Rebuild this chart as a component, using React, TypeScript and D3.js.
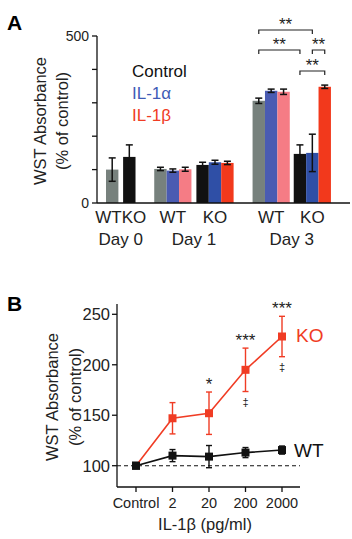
import React from 'react';
import * as d3 from 'd3';

// Panel A: WST absorbance bars (% of control)
const conditions = ['Control', 'IL-1α', 'IL-1β'];
const day0Genotypes = ['WT', 'KO'];
const day0Means = [100, 138];
const day0Errs = [35, 36];
const day1WtMeans = [102, 97, 101];
const day1WtErrs = [5, 5, 6];
const day1KoMeans = [114, 122, 120];
const day1KoErrs = [8, 6, 5];
const day3WtMeans = [306, 336, 333];
const day3WtErrs = [8, 5, 8];
const day3KoMeans = [147, 150, 348];
const day3KoErrs = [27, 56, 5];
const dayLabels = ['Day 0', 'Day 1', 'Day 3'];
const yTicksA = [0, 100, 200, 300, 400, 500];

// Panel B: dose response to IL-1β
const doses = ['Control', '2', '20', '200', '2000'];
const koMeans = [100, 147, 152, 195, 228];
const koErrs = [0, 15.5, 21, 21.5, 20];
const wtMeans = [100, 110, 109, 113, 115.5];
const wtErrs = [0, 6, 11, 5, 4];
const koStars = ['', '', '*', '***', '***'];
const koDaggers = ['', '', '', '‡', '‡'];
const yTicksB = [100, 150, 200, 250];

const FONT = "'Liberation Sans', Arial, Helvetica, sans-serif";
const wtColors = ['#77817d', '#4a5bb2', '#f57c85'];
const koColors = ['#111111', '#2f4fa6', '#f2391c'];
const RED = '#f03c24';

function ErrBar({ x, y0, y1, cap = 3.5, w = 1.5, color = '#111' }: { x: number; y0: number; y1: number; cap?: number; w?: number; color?: string }) {
  return (
    <g stroke={color} strokeWidth={w} fill="none">
      <line x1={x} x2={x} y1={y0} y2={y1} />
      <line x1={x - cap} x2={x + cap} y1={y0} y2={y0} />
      <line x1={x - cap} x2={x + cap} y1={y1} y2={y1} />
    </g>
  );
}

function PanelA() {
  const y = d3.scaleLinear().domain([0, 500]).range([203, 36]);
  const bw = 12.4;
  // bar slots in units of one bar width, measured from the first bar
  const x = d3.scaleLinear().domain([0, 1]).range([106, 106 + bw]);

  type Bar = { v: number; e: number; c: string; slot: number };
  const groups: { slot0: number; label: string; bars: Bar[] }[] = [
    { slot0: 0, label: '', bars: day0Means.map((v, i) => ({ v, e: day0Errs[i], c: i === 0 ? wtColors[0] : koColors[0], slot: i * 1.38 })) },
    { slot0: 3.89, label: 'WT', bars: day1WtMeans.map((v, i) => ({ v, e: day1WtErrs[i], c: wtColors[i], slot: i })) },
    { slot0: 7.29, label: 'KO', bars: day1KoMeans.map((v, i) => ({ v, e: day1KoErrs[i], c: koColors[i], slot: i })) },
    { slot0: 11.82, label: 'WT', bars: day3WtMeans.map((v, i) => ({ v, e: day3WtErrs[i], c: wtColors[i], slot: i })) },
    { slot0: 15.14, label: 'KO', bars: day3KoMeans.map((v, i) => ({ v, e: day3KoErrs[i], c: koColors[i], slot: i })) },
  ];
  const center = (g: number, s: number) => x(groups[g].slot0 + s + 0.5);

  const brackets = [
    { a: center(3, 0), b: center(4, 1), y: 30 },
    { a: center(3, 0), b: center(4, 0), y: 50 },
    { a: center(4, 1), b: center(4, 2), y: 50 },
    { a: center(4, 0), b: center(4, 2), y: 71 },
  ];

  return (
    <g fontFamily={FONT}>
      <text x={7} y={30} fontSize={21} fontWeight="bold">A</text>
      {groups.map((g, gi) =>
        g.bars.map((b, bi) => {
          const x0 = x(g.slot0 + b.slot);
          const cx = x0 + bw / 2;
          return (
            <g key={`${gi}-${bi}`}>
              <rect x={x0} width={bw} y={y(b.v)} height={y(0) - y(b.v)} fill={b.c} />
              <ErrBar x={cx} y0={y(b.v + b.e)} y1={y(b.v - b.e)} />
            </g>
          );
        })
      )}
      {/* axes */}
      <line x1={97} x2={97} y1={y(500)} y2={y(0)} stroke="#111" strokeWidth={1.3} />
      <line x1={97} x2={350} y1={y(0)} y2={y(0)} stroke="#111" strokeWidth={1.3} />
      {yTicksA.map((t) => (
        <line key={t} x1={92} x2={97} y1={y(t)} y2={y(t)} stroke="#111" strokeWidth={1.3} />
      ))}
      {[0, 500].map((t) => (
        <text key={t} x={89} y={y(t) + 5} textAnchor="end" fontSize={14} fill="#222">{t}</text>
      ))}
      <g transform="translate(46,121) rotate(-90)" fontSize={16.5} textAnchor="middle" fill="#222">
        <text x={0} y={0}>WST Absorbance</text>
        <text x={0} y={22}>(% of control)</text>
      </g>
      {/* legend */}
      <g fontSize={17}>
        {conditions.map((c, i) => (
          <text key={c} x={132} y={77 + i * 22} fill={[koColors[0], '#3f5bb6', RED][i]}>{c}</text>
        ))}
      </g>
      {/* group labels */}
      <g fontSize={17} textAnchor="middle" fill="#222">
        <text x={(x(0) + x(1.38 + 1)) / 2} y={223}>{day0Genotypes.join('')}</text>
        {groups.slice(1).map((g, i) => (
          <text key={i} x={x(g.slot0 + 1.5)} y={223}>{g.label}</text>
        ))}
        <text x={(x(0) + x(2.38)) / 2} y={245}>{dayLabels[0]}</text>
        <text x={(x(3.89) + x(10.29)) / 2} y={245}>{dayLabels[1]}</text>
        <text x={(x(11.82) + x(18.14)) / 2} y={245}>{dayLabels[2]}</text>
      </g>
      {/* significance */}
      {brackets.map((br, i) => (
        <g key={i}>
          <path d={`M${br.a},${br.y + 4}V${br.y}H${br.b}V${br.y + 4}`} fill="none" stroke="#222" strokeWidth={1.2} />
          <text x={(br.a + br.b) / 2} y={br.y - 0.5} textAnchor="middle" fontSize={17} fill="#222">**</text>
        </g>
      ))}
    </g>
  );
}

function PanelB() {
  const x = d3.scalePoint<string>().domain(doses).range([136, 282]);
  const y = d3.scaleLinear().domain([100, 250]).range([465.7, 314.3]);
  const line = d3.line<number>().x((_, i) => x(doses[i]) as number).y((d) => y(d));
  const axisBottom = 487;
  const sq = 8;

  return (
    <g fontFamily={FONT}>
      <text x={7} y={311} fontSize={21} fontWeight="bold">B</text>
      <line x1={117} x2={300} y1={y(100)} y2={y(100)} stroke="#111" strokeWidth={1.1} strokeDasharray="4,3" />
      {/* axes */}
      <line x1={117} x2={117} y1={304} y2={axisBottom} stroke="#111" strokeWidth={1.3} />
      <line x1={117} x2={300} y1={axisBottom} y2={axisBottom} stroke="#111" strokeWidth={1.3} />
      {yTicksB.map((t) => (
        <g key={t}>
          <line x1={112} x2={117} y1={y(t)} y2={y(t)} stroke="#111" strokeWidth={1.3} />
          <text x={110} y={y(t) + 6} textAnchor="end" fontSize={16.5} fill="#222">{t}</text>
        </g>
      ))}
      {doses.map((d) => (
        <g key={d}>
          <line x1={x(d)} x2={x(d)} y1={axisBottom} y2={axisBottom + 5} stroke="#111" strokeWidth={1.3} />
          <text x={x(d)} y={508} textAnchor="middle" fontSize={14.5} fill="#222">{d}</text>
        </g>
      ))}
      <text x={205} y={530} textAnchor="middle" fontSize={16.5} fill="#222">IL-1β (pg/ml)</text>
      <g transform="translate(58,397) rotate(-90)" fontSize={16.5} textAnchor="middle" fill="#222">
        <text x={0} y={0}>WST Absorbance</text>
        <text x={0} y={23}>(% of control)</text>
      </g>
      {/* WT series */}
      <path d={line(wtMeans) || ''} fill="none" stroke="#111" strokeWidth={1.6} />
      {wtMeans.map((v, i) => (
        <g key={`wt${i}`}>
          {wtErrs[i] > 0 && <ErrBar x={x(doses[i]) as number} y0={y(v + wtErrs[i])} y1={y(v - wtErrs[i])} cap={3} w={1.4} />}
          <rect x={(x(doses[i]) as number) - sq / 2} y={y(v) - sq / 2} width={sq} height={sq} fill="#111" />
        </g>
      ))}
      {/* KO series */}
      <path d={line(koMeans) || ''} fill="none" stroke={RED} strokeWidth={1.6} />
      {koMeans.map((v, i) => (
        <g key={`ko${i}`}>
          {koErrs[i] > 0 && <ErrBar x={x(doses[i]) as number} y0={y(v + koErrs[i])} y1={y(v - koErrs[i])} cap={3} w={1.4} color={RED} />}
          {i > 0 && <rect x={(x(doses[i]) as number) - sq / 2} y={y(v) - sq / 2} width={sq} height={sq} fill={RED} />}
          {koStars[i] && (
            <text x={x(doses[i])} y={y(v + koErrs[i]) - 2} textAnchor="middle" fontSize={17} fill="#222">{koStars[i]}</text>
          )}
          {koDaggers[i] && (
            <text x={x(doses[i])} y={y(v - koErrs[i]) + 14} textAnchor="middle" fontSize={11} fill="#222">{koDaggers[i]}</text>
          )}
        </g>
      ))}
      <rect x={(x(doses[0]) as number) - sq / 2} y={y(100) - sq / 2} width={sq} height={sq} fill="#111" />
      <text x={296} y={342} fontSize={19} fill={RED}>KO</text>
      <text x={294} y={457} fontSize={19} fill="#111">WT</text>
    </g>
  );
}

export default function App() {
  return (
    <svg width={352} height={539} style={{ position: 'absolute', left: 0, top: 0, background: '#fff' }}>
      <PanelA />
      <PanelB />
    </svg>
  );
}
